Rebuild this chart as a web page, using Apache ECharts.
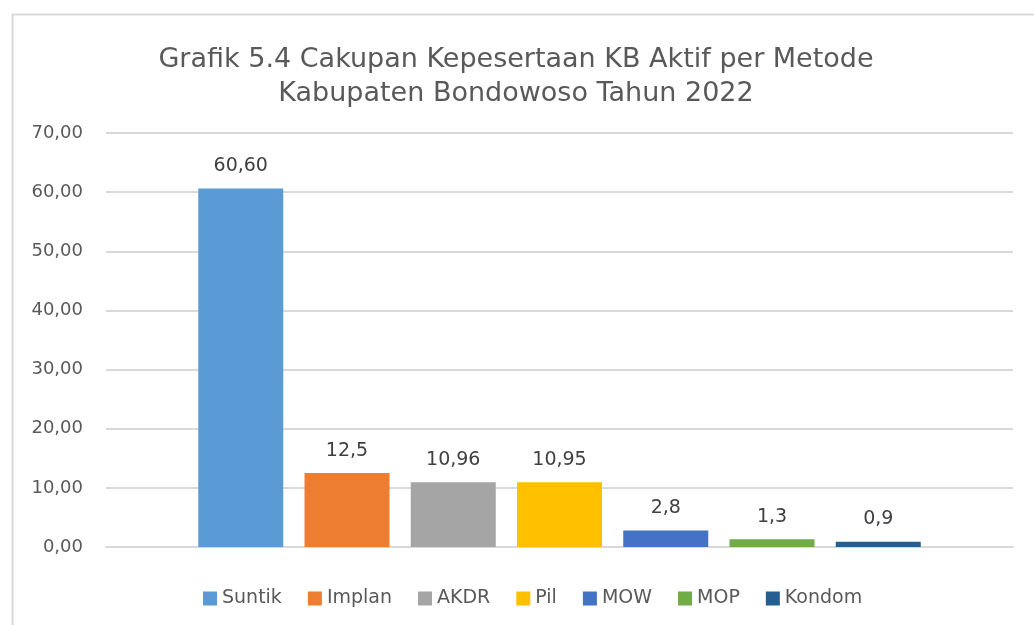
<!DOCTYPE html>
<html>
<head>
<meta charset="utf-8">
<script src="https://cdn.jsdelivr.net/npm/echarts@6/dist/echarts.min.js"></script>
<style>
  html, body { margin: 0; padding: 0; background: #fff; }
  #chart { width: 1034px; height: 625px; }
</style>
</head>
<body>
<div id="chart"></div>
<script>
// data
const methods = ['Suntik', 'Implan', 'AKDR', 'Pil', 'MOW', 'MOP', 'Kondom']
const values = [60.60, 12.5, 10.96, 10.95, 2.8, 1.3, 0.9]
const valueLabels = ['60,60', '12,5', '10,96', '10,95', '2,8', '1,3', '0,9']
const colors = ['#5b9bd5', '#ed7d31', '#a5a5a5', '#ffc000', '#4472c4', '#70ad47', '#255e91']
const yTicks = [0, 10, 20, 30, 40, 50, 60, 70]

const font = '"DejaVu Sans", Verdana, sans-serif'
const chart = echarts.init(document.getElementById('chart'))

const series = methods.map((name, i) => ({
  name,
  type: 'bar',
  data: [values[i]],
  barWidth: 85,
  barGap: '25%',
  itemStyle: { color: colors[i] },
  label: {
    show: true,
    position: 'top',
    distance: 13,
    formatter: () => valueLabels[i],
    color: '#404040',
    fontSize: 19,
    fontFamily: font
  }
}))

chart.setOption({
  animation: false,
  backgroundColor: '#fff',
  title: {
    text: 'Grafik 5.4 Cakupan Kepesertaan KB Aktif per Metode\nKabupaten Bondowoso Tahun 2022',
    left: 511,
    textAlign: 'center',
    top: 38,
    textStyle: {
      color: '#595959',
      fontSize: 27,
      fontWeight: 'normal',
      fontFamily: font,
      lineHeight: 34
    }
  },
  graphic: [{
    type: 'rect',
    shape: { x: 12.5, y: 14.5, width: 1040, height: 640 },
    style: { fill: 'none', stroke: '#d9d9d9', lineWidth: 2 },
    silent: true,
    z: -1
  }],
  legend: {
    bottom: 12,
    left: 198,
    itemWidth: 14,
    itemHeight: 14,
    itemGap: 26,
    icon: 'rect',
    textStyle: { color: '#595959', fontSize: 19, fontFamily: font },
    data: methods
  },
  grid: { left: 106, right: 21, top: 133, bottom: 78 },
  xAxis: {
    type: 'category',
    data: [''],
    axisLine: { lineStyle: { color: '#d9d9d9', width: 2 } },
    axisTick: { show: false },
    axisLabel: { show: false }
  },
  yAxis: {
    type: 'value',
    min: yTicks[0],
    max: yTicks[yTicks.length - 1],
    interval: 10,
    axisLine: { show: false },
    axisTick: { show: false },
    splitLine: { lineStyle: { color: '#d9d9d9', width: 2 } },
    axisLabel: {
      color: '#595959',
      fontSize: 18,
      fontFamily: font,
      margin: 23,
      formatter: v => v.toFixed(2).replace('.', ',')
    }
  },
  series
})
</script>
</body>
</html>
